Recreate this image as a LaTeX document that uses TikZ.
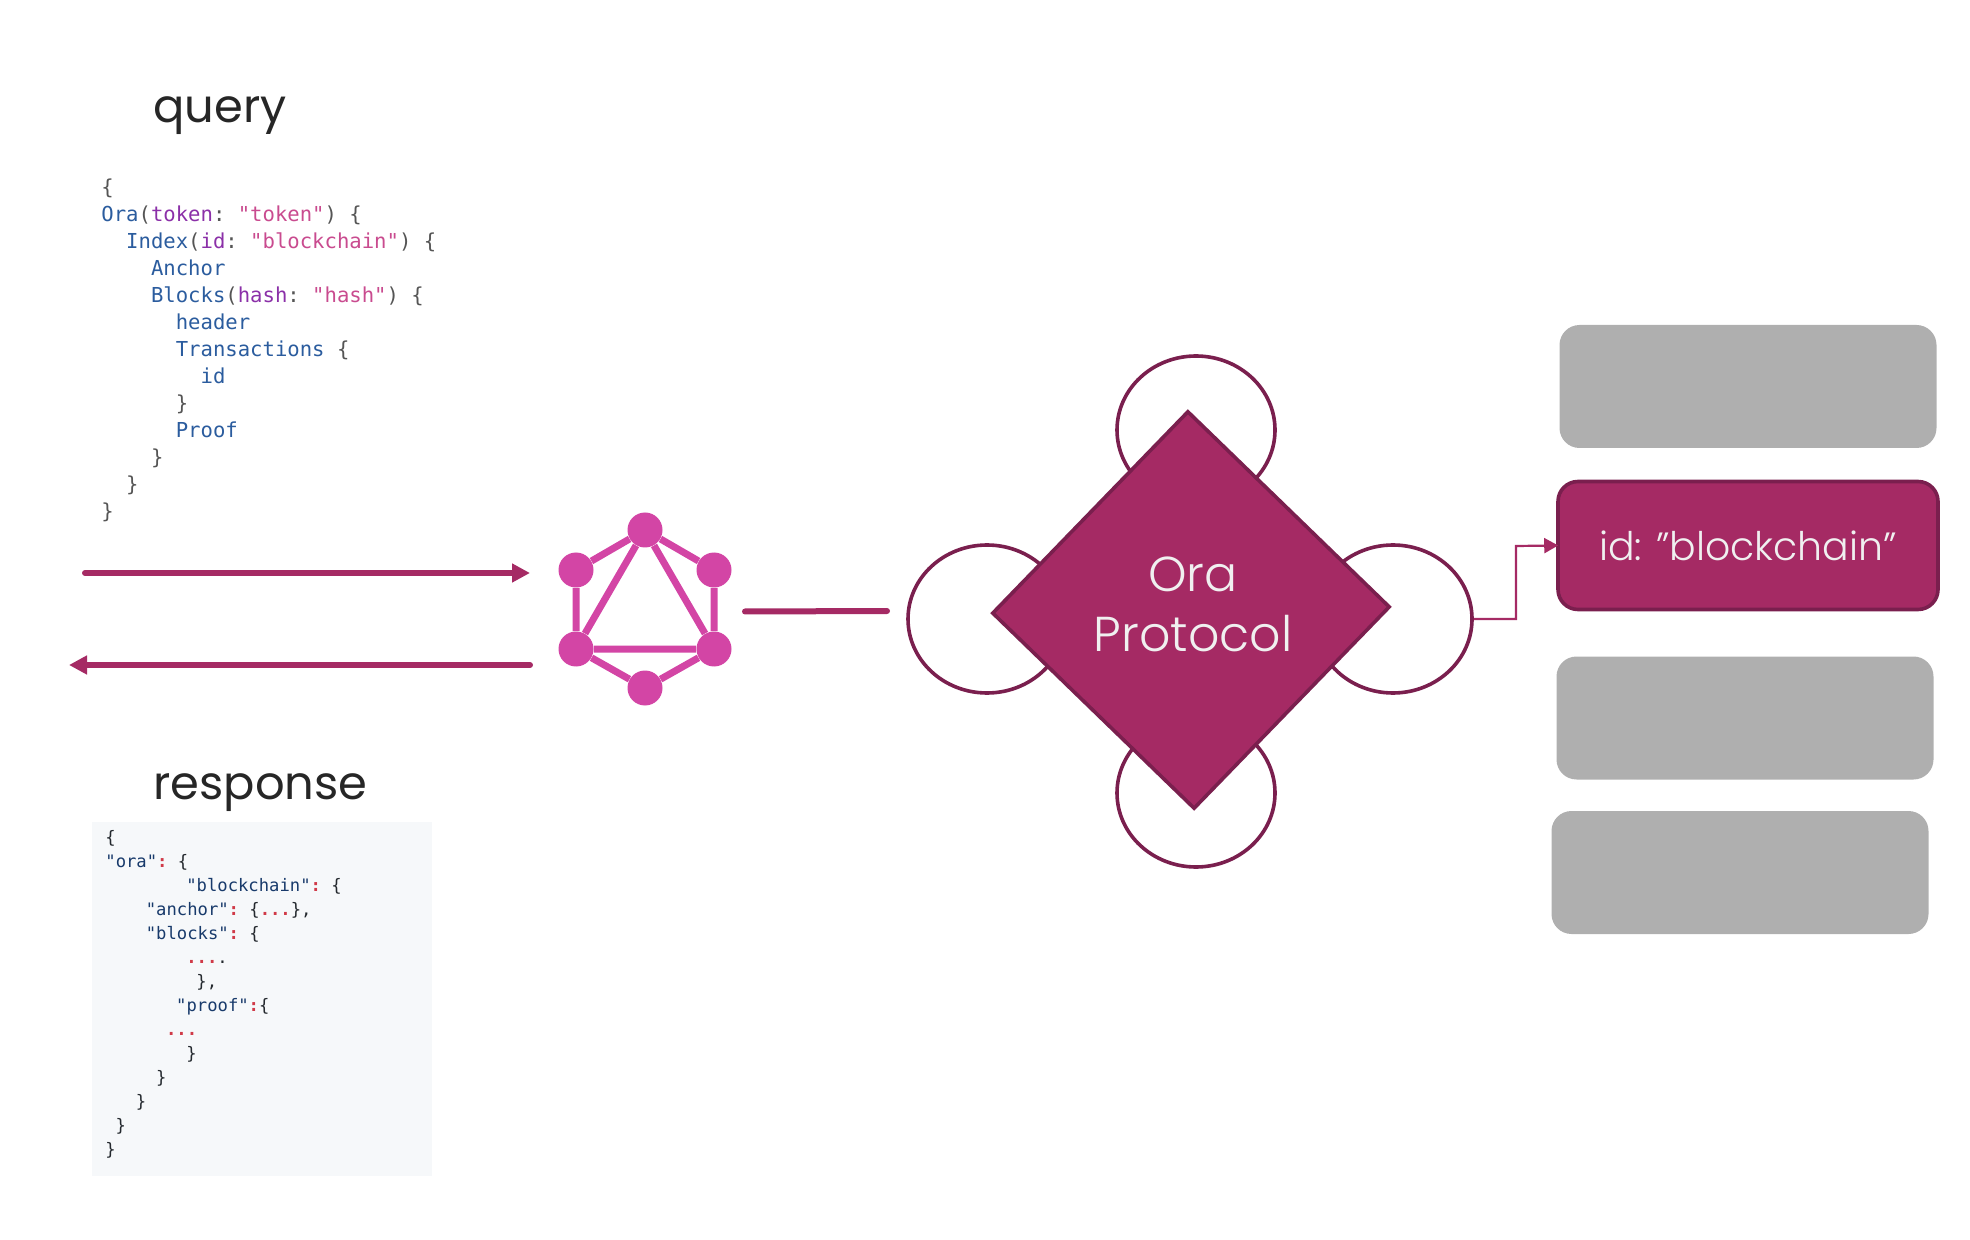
\documentclass[tikz,border=0pt]{standalone}
\usepackage{fontspec}
\setmainfont{Poppins}[UprightFont=* Light]
\newfontfamily\labelfont{Poppins}
\setmonofont{DejaVu Sans Mono}
\usetikzlibrary{arrows.meta, shapes.geometric}

\definecolor{oraberry}{HTML}{A52A64}
\definecolor{oradark}{HTML}{7A1F4E}
\definecolor{logopink}{HTML}{D345A5}
\definecolor{boxgray}{HTML}{AFAFAF}
\definecolor{jsonback}{HTML}{F6F8FA}
\definecolor{gqlname}{HTML}{2B5C9E}
\definecolor{gqlarg}{HTML}{8B30A8}
\definecolor{gqlstr}{HTML}{C94B8F}
\definecolor{gqlpunct}{HTML}{555555}
\definecolor{jsonkey}{HTML}{183A6B}
\definecolor{jsonred}{HTML}{D03A48}
\definecolor{jsonpunct}{HTML}{24292E}

\newcommand{\gn}[1]{\textcolor{gqlname}{#1}}
\newcommand{\ga}[1]{\textcolor{gqlarg}{#1}}
\newcommand{\gs}[1]{\textcolor{gqlstr}{#1}}
\newcommand{\jk}[1]{\textcolor{jsonkey}{#1}}
\newcommand{\jr}[1]{\textcolor{jsonred}{\bfseries #1}}
\newcommand{\gind}[1]{\hspace*{\dimexpr#1\dimexpr6.2pt\relax\relax}}
\newcommand{\jind}[1]{\hspace*{\dimexpr#1\dimexpr5.06pt\relax\relax}}

\tikzset{
    x=0.5pt, y=0.5pt,
    biglabel/.style={inner sep=0pt, anchor=base west, text=black!85, font=\labelfont\fontsize{23.2}{28}\selectfont},
    gqlcode/.style={inner sep=0pt, anchor=north west, align=left, text=gqlpunct, font=\ttfamily\fontsize{10.3}{13.5}\selectfont},
    jsoncode/.style={inner sep=0pt, anchor=north west, align=left, text=jsonpunct, font=\ttfamily\fontsize{8.6}{12}\selectfont},
    logodot/.style={circle, fill=logopink, inner sep=0pt, minimum size=17.5pt},
    logoline/.style={draw=logopink, line width=3.5pt},
    flow/.style={draw=oraberry, line width=3pt, line cap=round},
    peer/.style={ellipse, draw=oradark, line width=1.8pt, fill=white, inner sep=0pt, minimum width=79pt, minimum height=74pt},
    hub/.style={diamond, aspect=1, draw=oradark, line width=1.8pt, fill=oraberry, inner sep=0pt, minimum size=199pt, rotate=0.9},
    hubtext/.style={inner sep=0pt, align=center, text=white!94!black, font=\fontsize{24.5}{30}\selectfont},
    idle/.style={rectangle, rounded corners=10pt, fill=boxgray, inner sep=0pt, minimum width=188.5pt, minimum height=61.5pt},
    active/.style={rectangle, rounded corners=10pt, draw=oradark, line width=1.8pt, fill=oraberry, inner sep=0pt, minimum width=190pt, minimum height=64pt, text=white!94!black, font=\fontsize{19.7}{24}\selectfont},
}

\begin{document}
\begin{tikzpicture}
        \useasboundingbox (0,0) rectangle (1970,-1240);

        \node[biglabel] (querylabel) at (153,-123) {query};
        \node[gqlcode] (querycode) at (101,-178) {%
            \{\\
            \gn{Ora}(\ga{token}: \gs{"token"}) \{\\
            \gind{2}\gn{Index}(\ga{id}: \gs{"blockchain"}) \{\\
            \gind{4}\gn{Anchor}\\
            \gind{4}\gn{Blocks}(\ga{hash}: \gs{"hash"}) \{\\
            \gind{6}\gn{header}\\
            \gind{6}\gn{Transactions} \{\\
            \gind{8}\gn{id}\\
            \gind{6}\}\\
            \gind{6}\gn{Proof}\\
            \gind{4}\}\\
            \gind{2}\}\\
            \}};

        \node[rectangle, fill=jsonback, inner sep=0pt, minimum width=170pt, minimum height=177pt] (jsonpanel) at (262,-999) {};
        \node[biglabel] (responselabel) at (153,-799) {response};
        \node[jsoncode] (responsecode) at (105,-830) {%
            \{\\
            \jk{"ora"}\jr{:} \{\\
            \jind{8}\jk{"blockchain"}\jr{:} \{\\
            \jind{4}\jk{"anchor"}\jr{:} \{\jr{...}\},\\
            \jind{4}\jk{"blocks"}\jr{:} \{\\
            \jind{8}\jr{...}.\\
            \jind{9}\},\\
            \jind{7}\jk{"proof"}\jr{:}\{\\
            \jind{6}\jr{...}\\
            \jind{8}\}\\
            \jind{5}\}\\
            \jind{3}\}\\
            \jind{1}\}\\
            \}};

        \coordinate (querystart) at (85,-573);
        \coordinate (queryend) at (530,-573);
        \coordinate (responsestart) at (530,-665);
        \coordinate (responseend) at (69,-665);
        \draw[flow, -{Triangle[length=9pt, width=9pt]}] (querystart) -- (queryend);
        \draw[flow, -{Triangle[length=9pt, width=9pt]}] (responsestart) -- (responseend);

        \node[logodot] (logotop) at (645,-530) {};
        \node[logodot, below of=logotop, node distance=79pt] (logobottom) {};
        \node[logodot] (logoul) at (576,-570) {};
        \node[logodot] (logour) at (714,-570) {};
        \node[logodot] (logoll) at (576,-649) {};
        \node[logodot] (logolr) at (714,-649) {};
        \draw[logoline] (logotop) -- (logour) -- (logolr) -- (logobottom) -- (logoll) -- (logoul) -- (logotop)
                        (logotop) -- (logoll) -- (logolr) -- (logotop);

        \coordinate (linkstart) at (745,-611.5);
        \coordinate (linkend) at (887,-611);
        \draw[flow] (linkstart) -- (linkend);

        \node[peer] (peertop) at (1196,-430) {};
        \node[peer] (peerbottom) at (1196,-793) {};
        \node[peer] (peerleft) at (987,-619) {};
        \node[peer] (peerright) at (1393,-619) {};
        \node[hub] (orashape) at (1191,-610) {};
        \node[hubtext] (oraprotocol) at (1193,-604) {Ora\\[0pt]Protocol};

        \node[active] (idbox) at (1748,-545.5) {id: ”blockchain”};
        \node[idle] (idlefirst) at (1748,-386.5) {};
        \node[idle] (idlethird) at (1745,-718) {};
        \node[idle] (idlefourth) at (1740,-872.5) {};

        \coordinate (idbend) at (1516,-546);
        \draw[draw=oraberry, line width=1.1pt, shorten >=-1pt, -{Triangle[length=7pt, width=7.5pt]}] (peerright.east) -| (idbend) -- (idbox.west);
\end{tikzpicture}
\end{document}
